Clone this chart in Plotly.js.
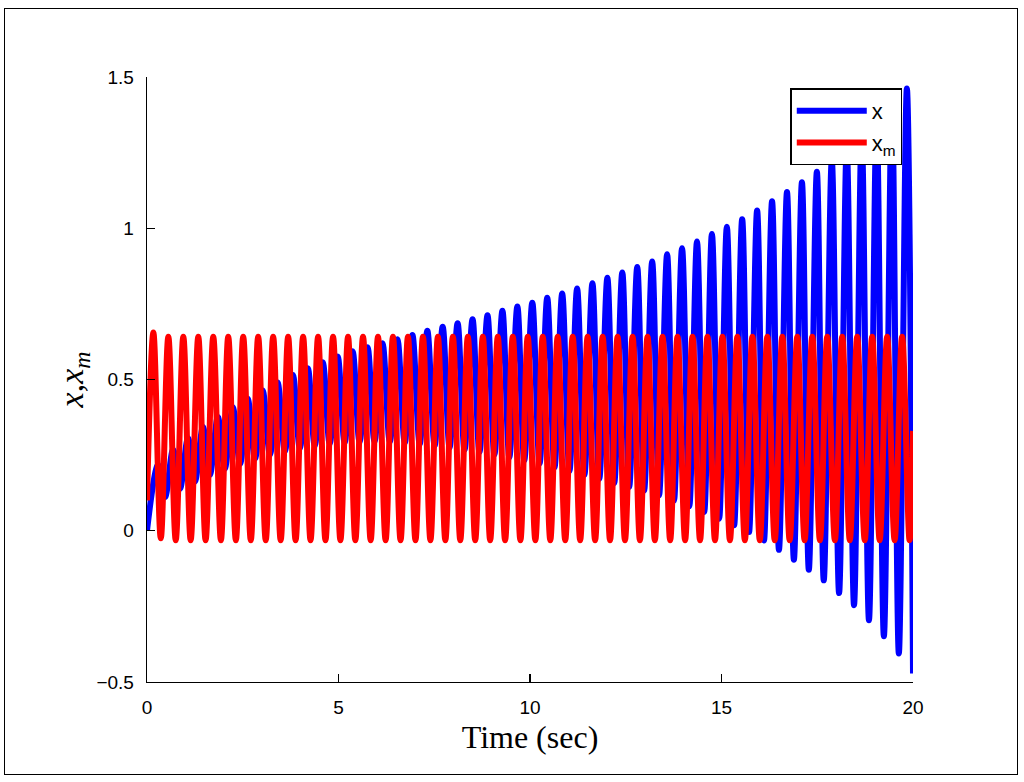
<!DOCTYPE html>
<html>
<head>
<meta charset="utf-8">
<script src="https://cdn.plot.ly/plotly-3.0.1.min.js"></script>
<style>
  body { margin: 0; background: #fff; }
  #chart { width: 1024px; height: 782px; }
  #frame { position: absolute; left: 4px; top: 8px; width: 1012px; height: 765px;
           border: 1.5px solid #000; pointer-events: none; }
</style>
</head>
<body>
<div id="chart"></div>
<div id="frame"></div>
<script>
// extremes, time in sec
const redStart = [0, 0.10]
const redEnd = [20, 0.33]
const redPeakT = [0.166, 0.557, 0.948, 1.339, 1.730, 2.121, 2.512, 2.903, 3.294, 3.685,
  4.076, 4.467, 4.858, 5.249, 5.640, 6.031, 6.422, 6.813, 7.204, 7.595,
  7.986, 8.377, 8.768, 9.159, 9.550, 9.941, 10.332, 10.723, 11.114, 11.505,
  11.896, 12.287, 12.678, 13.069, 13.460, 13.851, 14.242, 14.633, 15.024, 15.415,
  15.806, 16.197, 16.588, 16.979, 17.370, 17.761, 18.152, 18.543, 18.934, 19.325, 19.716]
const redPeakV = [0.655, 0.641, 0.641, 0.641, 0.641, 0.641, 0.641, 0.641, 0.641, 0.641,
  0.641, 0.641, 0.641, 0.641, 0.641, 0.641, 0.641, 0.641, 0.641, 0.641,
  0.641, 0.641, 0.641, 0.641, 0.641, 0.641, 0.641, 0.641, 0.641, 0.641,
  0.641, 0.641, 0.641, 0.641, 0.641, 0.641, 0.641, 0.641, 0.641, 0.641,
  0.641, 0.641, 0.641, 0.641, 0.641, 0.641, 0.641, 0.641, 0.641, 0.641, 0.641]
const redTroughT = [0.36, 0.75, 1.14, 1.53, 1.93, 2.32, 2.71, 3.10, 3.49, 3.88,
  4.27, 4.66, 5.05, 5.44, 5.84, 6.23, 6.62, 7.01, 7.40, 7.79,
  8.18, 8.57, 8.96, 9.35, 9.75, 10.14, 10.53, 10.92, 11.31, 11.70,
  12.09, 12.48, 12.87, 13.26, 13.66, 14.05, 14.44, 14.83, 15.22, 15.61,
  16.00, 16.39, 16.78, 17.17, 17.57, 17.96, 18.35, 18.74, 19.13, 19.52, 19.91]
const redTroughV = [-0.025, -0.031, -0.031, -0.031, -0.031, -0.031, -0.031, -0.031, -0.031, -0.031,
  -0.031, -0.031, -0.031, -0.031, -0.031, -0.031, -0.031, -0.031, -0.031, -0.031,
  -0.031, -0.031, -0.031, -0.031, -0.031, -0.031, -0.031, -0.031, -0.031, -0.031,
  -0.031, -0.031, -0.031, -0.031, -0.031, -0.031, -0.031, -0.031, -0.031, -0.031,
  -0.031, -0.031, -0.031, -0.031, -0.031, -0.031, -0.031, -0.031, -0.031, -0.031, -0.031]

const blueStart = [0, 0]
const bluePeakT = [0.29, 0.68, 1.07, 1.46, 1.85, 2.24, 2.63, 3.02, 3.41, 3.81,
  4.20, 4.59, 4.98, 5.37, 5.76, 6.15, 6.54, 6.93, 7.32, 7.72,
  8.11, 8.50, 8.89, 9.28, 9.67, 10.06, 10.45, 10.84, 11.23, 11.63,
  12.02, 12.41, 12.80, 13.19, 13.58, 13.97, 14.36, 14.75, 15.14, 15.54,
  15.93, 16.32, 16.71, 17.10, 17.49, 17.88, 18.27, 18.66, 19.05, 19.45, 19.84]
const bluePeakV = [0.218, 0.268, 0.306, 0.343, 0.376, 0.408, 0.436, 0.464, 0.490, 0.515,
  0.537, 0.557, 0.576, 0.593, 0.607, 0.620, 0.633, 0.647, 0.661, 0.674,
  0.686, 0.699, 0.712, 0.727, 0.741, 0.754, 0.770, 0.784, 0.801, 0.818,
  0.836, 0.854, 0.872, 0.890, 0.914, 0.934, 0.956, 0.981, 1.005, 1.030,
  1.059, 1.089, 1.120, 1.152, 1.187, 1.226, 1.267, 1.310, 1.356, 1.406, 1.462]
const blueTroughT = [0.47, 0.86, 1.25, 1.64, 2.03, 2.43, 2.82, 3.21, 3.60, 3.99,
  4.38, 4.77, 5.16, 5.55, 5.94, 6.34, 6.73, 7.12, 7.51, 7.90,
  8.29, 8.68, 9.07, 9.46, 9.85, 10.25, 10.64, 11.03, 11.42, 11.81,
  12.20, 12.59, 12.98, 13.37, 13.76, 14.16, 14.55, 14.94, 15.33, 15.72,
  16.11, 16.50, 16.89, 17.28, 17.67, 18.07, 18.46, 18.85, 19.24, 19.63, 20.00]
const blueTroughV = [0.111, 0.139, 0.163, 0.185, 0.205, 0.221, 0.238, 0.252, 0.263, 0.273,
  0.281, 0.287, 0.291, 0.293, 0.294, 0.293, 0.291, 0.287, 0.282, 0.276,
  0.268, 0.260, 0.252, 0.243, 0.233, 0.222, 0.210, 0.198, 0.185, 0.172,
  0.158, 0.145, 0.133, 0.117, 0.100, 0.081, 0.062, 0.040, 0.018, -0.004,
  -0.032, -0.063, -0.096, -0.129, -0.164, -0.206, -0.246, -0.296, -0.349, -0.406, -0.472]

const xTicks = [0, 5, 10, 15, 20]
const yTicks = [-0.5, 0, 0.5, 1, 1.5]

// put peaks and troughs in time order
function weave(start, peakT, peakV, troughT, troughV, end) {
  let x = [start[0]], y = [start[1]]
  for (let i = 0; i < peakT.length; i++) {
    x.push(peakT[i]); y.push(peakV[i])
    if (i < troughT.length) { x.push(troughT[i]); y.push(troughV[i]) }
  }
  if (end) { x.push(end[0]); y.push(end[1]) }
  return { x: x, y: y }
}

let blue = weave(blueStart, bluePeakT, bluePeakV, blueTroughT, blueTroughV)
let red = weave(redStart, redPeakT, redPeakV, redTroughT, redTroughV, redEnd)

const traces = [
  { x: blue.x, y: blue.y, name: 'x', mode: 'lines', type: 'scatter', hoverinfo: 'none',
    line: { color: 'rgb(0,0,255)', width: 6, shape: 'spline', smoothing: 1 } },
  { x: red.x, y: red.y, name: 'x<sub>m</sub>', mode: 'lines', type: 'scatter', hoverinfo: 'none',
    line: { color: 'rgb(255,0,0)', width: 6, shape: 'spline', smoothing: 1 } }
]

const axisStyle = {
  showgrid: false, zeroline: false, showline: true, linecolor: '#000', linewidth: 1.3,
  ticks: 'inside', ticklen: 8, tickwidth: 1.3, tickcolor: '#000',
  tickfont: { family: 'Liberation Sans, Arial, sans-serif', size: 19, color: '#000' }
}

const layout = {
  width: 1024, height: 782,
  margin: { l: 147, r: 111, t: 77, b: 100 },
  paper_bgcolor: '#fff', plot_bgcolor: '#fff',
  showlegend: true,
  legend: {
    x: 0.986, y: 0.981, xanchor: 'right', yanchor: 'top',
    bordercolor: '#000', borderwidth: 1.5, bgcolor: '#fff',
    itemwidth: 70, tracegroupgap: 0,
    font: { family: 'Liberation Sans, Arial, sans-serif', size: 22, color: '#000' }
  },
  xaxis: Object.assign({}, axisStyle, {
    range: [0, 20], tickvals: xTicks, ticklabelstandoff: 8,
    title: { text: 'Time (sec)', standoff: 8,
      font: { family: 'Liberation Serif, DejaVu Serif, serif', size: 32, color: '#000' } }
  }),
  yaxis: Object.assign({}, axisStyle, {
    range: [-0.5, 1.5], tickvals: yTicks, ticklabelstandoff: 8,
    title: { text: '<i>x</i>,<i>x</i><sub><i>m</i></sub>', standoff: 2,
      font: { family: 'Liberation Serif, DejaVu Serif, serif', size: 34, color: '#000' } }
  })
}

Plotly.newPlot('chart', traces, layout, { staticPlot: true })
</script>
</body>
</html>
